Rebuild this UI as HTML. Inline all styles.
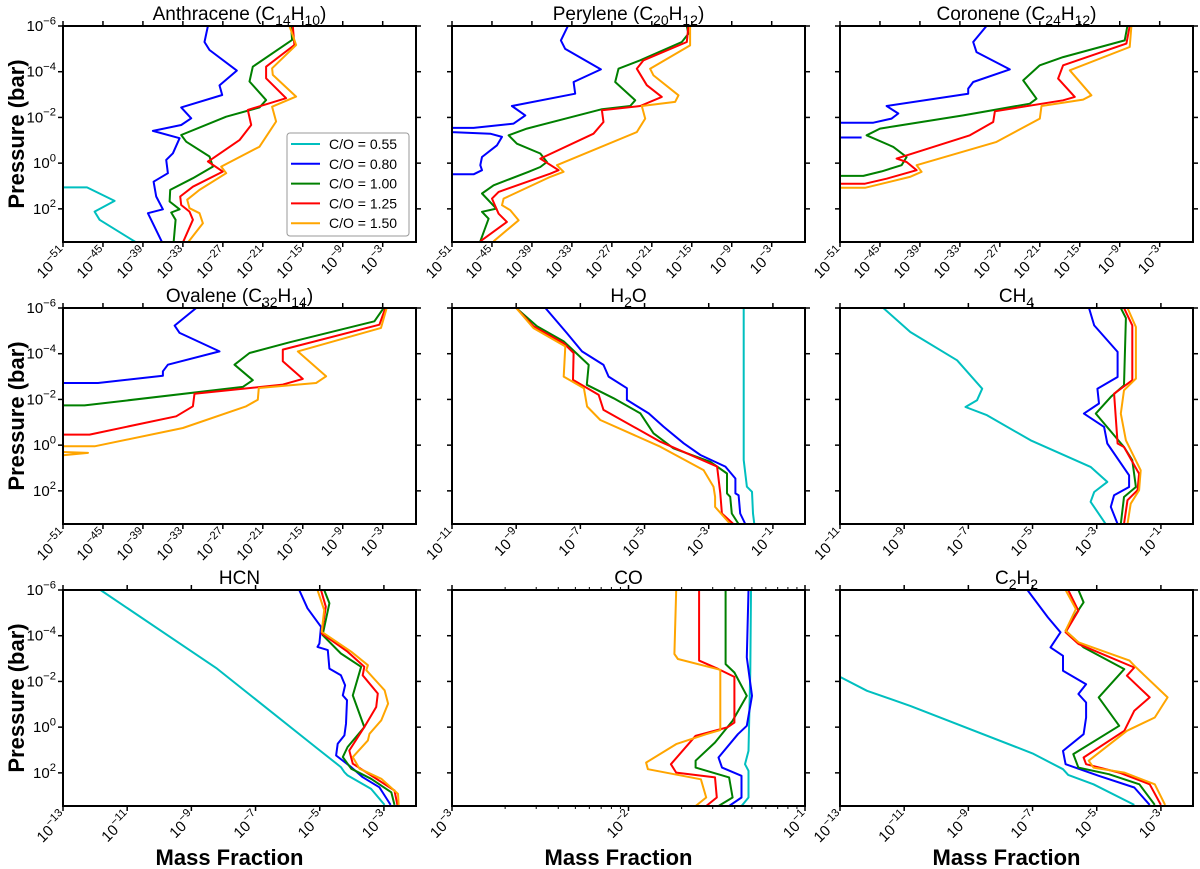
<!DOCTYPE html>
<html><head><meta charset="utf-8"><title>Mass fraction profiles</title>
<style>
html,body{margin:0;padding:0;background:#fff;}
svg{display:block;font-family:"Liberation Sans","DejaVu Sans",sans-serif;}
</style></head>
<body>
<svg id="fig" width="1200" height="869" viewBox="0 0 1200 869" xmlns="http://www.w3.org/2000/svg"></svg>
<script>
// ---- data: [log10 mass fraction, log10 pressure(bar)], null = gap ----
const anth_c=[[-51,1.06],[-47.4,1.06],[-43.25,1.65],[-46.25,2.12],[-45.5,2.48],[-40,3.47]];
const anth_b=[[-29.25,-6],[-29.75,-5.3],[-29,-4.95],[-24.9,-4.05],[-27.5,-3.4],[-27.1,-2.98],[-33.25,-2.44],[-31.75,-1.96],[-33.25,-1.67],[-37.5,-1.41],[-33.5,-1.09],[-34.5,-0.43],[-35.5,-0.14],[-35.25,0.44],[-37.4,0.81],[-37,1.46],[-36,2.02],[-38.25,2.19],[-36.1,3.47]];
const anth_g=[[-16.75,-6],[-16.6,-5.39],[-22.5,-4.22],[-23,-3.57],[-20.5,-2.76],[-21.5,-2.44],[-26.5,-2.03],[-33.25,-1.23],[-32.5,-0.94],[-29,-0.29],[-28.5,0.15],[-31.5,0.66],[-34.9,1.17],[-35,1.68],[-33.5,2.02],[-34.75,2.16],[-34.1,2.48],[-34.4,3.47]];
const anth_r=[[-16.5,-6],[-16.25,-5.17],[-20.5,-4.22],[-20.5,-3.71],[-17.5,-2.84],[-23.25,-2.33],[-22.75,-1.67],[-24.5,-1.01],[-28.5,-0.21],[-29.25,-0.07],[-27,0.37],[-31.5,1.03],[-33.4,1.46],[-33.25,1.83],[-32,2.12],[-31.5,2.48],[-33,3.47]];
const anth_o=[[-17,-6],[-16,-5.17],[-19.6,-4.15],[-19.5,-3.86],[-16,-2.91],[-19.6,-2.47],[-19,-1.82],[-21.5,-0.72],[-27.25,0.15],[-26.5,0.44],[-30.5,1.17],[-32.35,1.6],[-32,1.97],[-30.5,2.19],[-30,2.63],[-32.25,3.47]];

const pery_c=[];
const pery_b=[[-33.6,-6],[-34.65,-5.37],[-34,-5.0],[-28.65,-4.1],[-32.75,-3.55],[-32.5,-3.04],[-42,-2.5],[-40,-2.09],[-41.75,-1.73],[-47.75,-1.54],[-51,-1.54],[-51,-1.36],[-45.25,-1.29],[-43.5,-1.15],[-44.25,-0.78],[-46.5,-0.27],[-46.75,0.09],[-46.5,0.31],[-47.75,0.49],[-51,0.49]];
const pery_g=[[-15.75,-6],[-15.5,-5.66],[-16.5,-5.3],[-22.75,-4.5],[-26,-4.13],[-26.5,-3.55],[-23.5,-2.75],[-24.25,-2.5],[-28.5,-2.36],[-39.75,-1.51],[-42.5,-1.22],[-41.25,-0.85],[-37.75,-0.42],[-36.75,-0.05],[-37.75,0.17],[-39.5,0.38],[-44.75,0.97],[-46.5,1.33],[-44.35,1.99],[-46.5,2.13],[-45.5,2.43],[-46.75,3.42]];
const pery_r=[[-15.5,-6],[-15.75,-5.3],[-22.25,-4.5],[-23.25,-4.13],[-21.75,-3.41],[-19.5,-2.9],[-22.75,-2.5],[-28.5,-2.31],[-28.25,-1.8],[-29.75,-1.29],[-37.75,-0.2],[-35,0.31],[-36.25,0.46],[-44,1.26],[-45,1.55],[-44,2.21],[-42.75,2.57],[-46.75,3.42]];
const pery_o=[[-15.25,-6],[-15.25,-5.15],[-21.25,-4.13],[-20.75,-3.84],[-17,-2.97],[-17.5,-2.68],[-22.5,-2.5],[-22,-1.95],[-23.25,-1.36],[-35.25,0.09],[-34.25,0.38],[-36.25,0.6],[-43.25,1.55],[-43.5,1.84],[-42.25,2.06],[-41,2.5],[-44.75,3.42]];

const coro_c=[];
const coro_b=[[-29,-6],[-31,-5.3],[-30.5,-4.86],[-25.5,-4.1],[-31,-3.55],[-31.75,-3.26],[-31.75,-3.04],[-44,-2.5],[-42.25,-2.17],[-43.25,-1.95],[-46,-1.77],[-51,-1.77],null,[-51,-1.12],[-47.75,-1.12]];
const coro_g=[[-7.85,-6],[-8.25,-5.37],[-17.5,-4.64],[-21,-4.28],[-23.5,-3.62],[-21.5,-2.82],[-22.5,-2.6],[-32.5,-2.09],[-45,-1.51],[-47,-1.22],[-43,-0.71],[-41,-0.27],[-41.75,0.09],[-44.75,0.36],[-47.5,0.56],[-51,0.56]];
const coro_r=[[-7.5,-6],[-8,-5.23],[-17.5,-4.28],[-18.25,-3.7],[-15.75,-2.9],[-17.5,-2.75],[-27.75,-2.27],[-28,-1.8],[-31.5,-1.22],[-42.5,-0.2],[-41,-0.05],[-39.5,0.31],[-44,0.68],[-47.25,0.9],[-51,0.9]];
const coro_o=[[-7.25,-6],[-7.5,-5.08],[-16.5,-4.06],[-13.25,-2.97],[-14.5,-2.78],[-20.75,-2.5],[-21,-1.95],[-27.5,-0.93],[-39.5,0.09],[-38.75,0.38],[-40.5,0.6],[-47.25,1.08],[-51,1.08]];

const oval_c=[];
const oval_b=[[-31,-6],[-34.25,-5.23],[-33.5,-4.91],[-27.5,-4.1],[-35.25,-3.52],[-36,-3.23],[-36,-3.04],[-45.75,-2.72],[-51,-2.72]];
const oval_g=[[-2.85,-6],[-4.25,-5.42],[-17,-4.5],[-23,-4.03],[-25.25,-3.52],[-22.5,-2.84],[-24,-2.55],[-47.75,-1.74],[-51,-1.74]];
const oval_r=[[-2.6,-6],[-3.5,-5.27],[-18,-4.18],[-18,-3.67],[-15,-2.9],[-18,-2.65],[-31.25,-2.25],[-31.5,-1.7],[-34,-1.26],[-47,-0.46],[-51,-0.46]];
const oval_o=[[-2.4,-6],[-3.25,-5.13],[-15.75,-4.1],[-11.5,-3.01],[-13,-2.72],[-21.6,-2.5],[-21.75,-1.99],[-23.5,-1.7],[-33,-0.75],[-46.25,0.05],[-51,0.05],null,[-51,0.3],[-47.25,0.34],[-51,0.44]];

const h2o_c=[[-1.91,-6],[-1.91,0.65],[-1.81,1.82],[-1.65,2.04],[-1.62,2.99],[-1.58,3.45]];
const h2o_b=[[-8.09,-6],[-7.42,-4.9],[-6.95,-4.1],[-6.28,-3.51],[-6.12,-3.0],[-5.55,-2.49],[-5.55,-1.98],[-4.87,-1.39],[-4.41,-0.81],[-3.78,-0.08],[-3.26,0.43],[-2.48,0.94],[-2.17,1.46],[-2.17,2.11],[-2.07,2.19],[-2.02,2.99],[-1.86,3.45]];
const h2o_g=[[-9,-6],[-8.35,-5.2],[-7.52,-4.54],[-6.74,-3.51],[-6.8,-2.64],[-5.96,-2.05],[-5.13,-1.39],[-4.72,-0.52],[-4.1,0.14],[-2.95,0.73],[-2.43,1.24],[-2.43,2.11],[-2.33,2.26],[-2.28,2.99],[-2.07,3.45]];
const h2o_r=[[-9,-6],[-8.46,-5.2],[-7.52,-4.46],[-7.21,-4.03],[-7.23,-2.86],[-6.43,-2.2],[-6.28,-1.54],[-4.51,-0.15],[-2.74,0.94],[-2.64,2.11],[-2.59,2.99],[-2.23,3.45]];
const h2o_o=[[-9,-6],[-8.46,-5.12],[-7.47,-4.32],[-7.52,-3.0],[-6.89,-2.49],[-6.79,-1.69],[-6.38,-1.1],[-4.51,0.07],[-3.16,1.09],[-2.85,1.82],[-2.8,2.26],[-2.8,2.7],[-2.33,3.45]];

const ch4_c=[[-9.65,-6],[-8.81,-4.95],[-7.35,-3.71],[-6.57,-2.47],[-6.73,-1.96],[-7.09,-1.67],[-6.42,-1.31],[-5.06,-0.21],[-3.19,0.95],[-2.67,1.61],[-3.08,2.05],[-3.19,2.48],[-2.72,3.45]];
const ch4_b=[[-3.24,-6],[-3.08,-5.24],[-2.35,-4.08],[-2.35,-2.98],[-2.98,-2.47],[-2.93,-1.82],[-3.4,-1.38],[-2.77,-0.8],[-2.67,-0.07],[-1.99,1.32],[-1.99,1.83],[-2.46,2.19],[-2.56,2.7],[-2.35,3.45]];
const ch4_g=[[-2.25,-6],[-2.09,-5.56],[-2.15,-2.62],[-2.56,-2.11],[-3.03,-1.38],[-2.15,0.08],[-1.89,0.66],[-1.78,1.83],[-2.15,2.27],[-2.25,3.45]];
const ch4_r=[[-2.15,-6],[-1.89,-5.24],[-1.89,-2.84],[-2.46,-2.25],[-2.35,-0.07],[-2.15,0.08],[-1.68,1.25],[-1.73,1.97],[-2.04,2.41],[-2.15,3.45]];
const ch4_o=[[-2.04,-6],[-1.78,-5.17],[-1.78,-2.91],[-2.15,-2.4],[-2.25,-1.38],[-2.09,-0.21],[-1.63,1.1],[-1.68,1.97],[-1.94,2.56],[-2.04,3.45]];

const hcn_c=[[-11.83,-6],[-8.2,-2.56],[-5.07,0.94],[-4.34,1.75],[-4.23,1.97],[-4.13,2.11],[-3.4,2.7],[-2.98,3.4]];
const hcn_b=[[-5.64,-6],[-5.38,-5.2],[-4.96,-4.39],[-5.01,-3.66],[-5.07,-3.51],[-4.75,-3.37],[-4.7,-2.56],[-4.34,-2.27],[-4.21,-1.83],[-4.28,-1.39],[-4.15,-1.18],[-4.18,-0.15],[-4.23,0.36],[-4.44,0.73],[-4.49,1.24],[-4.02,1.75],[-3.66,2.19],[-3.14,2.63],[-2.79,3.4]];
const hcn_g=[[-4.86,-6],[-4.7,-5.42],[-4.91,-4.03],[-4.34,-3.22],[-3.71,-2.64],[-3.97,-1.39],[-3.61,0.0],[-4.13,0.87],[-4.28,1.31],[-4.02,1.82],[-3.4,2.26],[-2.77,2.85],[-2.67,3.4]];
const hcn_r=[[-4.96,-6],[-4.81,-5.27],[-4.94,-4.1],[-4.13,-3.3],[-3.61,-2.64],[-3.66,-2.27],[-3.19,-1.47],[-3.24,-0.88],[-3.61,0.0],[-4.08,1.02],[-3.97,1.6],[-3.4,2.11],[-2.67,2.77],[-2.58,3.4]];
const hcn_o=[[-5.07,-6],[-4.86,-5.12],[-4.94,-4.17],[-4.02,-3.3],[-3.5,-2.71],[-3.55,-2.49],[-2.98,-1.61],[-2.87,-1.03],[-3.08,-0.3],[-3.45,0.29],[-3.5,0.58],[-3.97,1.31],[-3.76,1.82],[-3.08,2.26],[-2.56,2.92],[-2.54,3.4]];

const co_c=[[-1.306,-6],[-1.31,-2.47],[-1.32,1.04],[-1.34,1.62],[-1.32,1.91],[-1.32,3.08],[-1.36,3.45]];
const co_b=[[-1.32,-6],[-1.33,-3.05],[-1.3,-1.37],[-1.33,-0.06],[-1.38,0.31],[-1.49,1.33],[-1.47,1.77],[-1.36,2.13],[-1.36,3.08],[-1.43,3.45]];
const co_g=[[-1.45,-6],[-1.45,-2.76],[-1.4,-2.39],[-1.33,-1.37],[-1.41,-0.28],[-1.51,0.67],[-1.62,1.47],[-1.62,1.77],[-1.43,2.2],[-1.41,3.08],[-1.49,3.45]];
const co_r=[[-1.6,-6],[-1.6,-2.91],[-1.49,-2.54],[-1.4,-2.2],[-1.4,-0.2],[-1.44,0.01],[-1.62,0.38],[-1.76,1.62],[-1.73,1.99],[-1.51,2.2],[-1.5,3.08],[-1.56,3.45]];
const co_o=[[-1.73,-6],[-1.74,-3.2],[-1.72,-2.98],[-1.48,-2.51],[-1.48,0.13],[-1.56,0.31],[-1.73,0.74],[-1.9,1.55],[-1.89,1.84],[-1.59,2.28],[-1.56,3.08],[-1.62,3.45]];

const c2h2_c=[[-13,-2.2],[-12.16,-1.59],[-10.81,-0.93],[-7,1.15],[-6.05,1.84],[-5.89,2.09],[-5.1,2.5],[-3.83,3.4]];
const c2h2_b=[[-7.16,-6],[-6.52,-4.8],[-6.13,-4.15],[-6.44,-3.49],[-6.05,-3.12],[-6.05,-2.47],[-5.33,-1.88],[-5.57,-1.45],[-5.33,-1.08],[-5.33,-0.42],[-5.41,0.31],[-6.05,1.04],[-5.97,1.62],[-4.94,2.13],[-3.83,2.64],[-3.35,3.4]];
const c2h2_g=[[-5.57,-6],[-5.41,-5.46],[-5.65,-4.95],[-5.97,-4.22],[-5.41,-3.49],[-4.14,-2.54],[-4.94,-1.3],[-4.3,-0.06],[-5.73,1.18],[-5.57,1.77],[-4.62,2.06],[-3.67,2.5],[-3.19,3.4]];
const c2h2_r=[[-5.89,-6],[-5.57,-5.09],[-5.97,-4.15],[-5.57,-3.64],[-3.83,-2.61],[-4.06,-2.25],[-3.35,-1.3],[-3.83,-0.72],[-4.14,0.16],[-5.41,1.33],[-5.33,1.62],[-4.3,1.99],[-3.35,2.5],[-3.0,3.4]];
const c2h2_o=[[-5.97,-6],[-5.65,-5.17],[-5.97,-4.22],[-5.57,-3.71],[-3.98,-2.91],[-3.83,-2.69],[-2.79,-1.3],[-3.19,-0.42],[-4.06,0.16],[-5.25,1.47],[-5.1,1.77],[-4.14,1.99],[-3.19,2.5],[-2.87,3.4]];

const seriesLabels=["C/O = 0.55","C/O = 0.80","C/O = 1.00","C/O = 1.25","C/O = 1.50"];
const yTicks=[-6,-4,-2,0,2];
const ticksPAH=[-51,-45,-39,-33,-27,-21,-15,-9,-3];
const ticksGas=[-11,-9,-7,-5,-3,-1];
const ticksLow=[-13,-11,-9,-7,-5,-3];
const ticksCO=[-3,-2,-1];

// ---- layout ----
const NS="http://www.w3.org/2000/svg";
const svg=document.getElementById("fig");
const COLORS=["#00bfbf","#0000ff","#008000","#ff0000","#ffa500"];
const colX=[63,452,840], rowY=[26,308,590], W=353, H=216, PMIN=-6, PMAX=3.45;
const panels=[
 {id:"anthracene",title:[["Anthracene (C",0],["14",1],["H",0],["10",1],[")",0]],r:0,c:0,xmin:-51,xmax:2,ticks:ticksPAH,data:[anth_c,anth_b,anth_g,anth_r,anth_o]},
 {id:"perylene",title:[["Perylene (C",0],["20",1],["H",0],["12",1],[")",0]],r:0,c:1,xmin:-51,xmax:2,ticks:ticksPAH,data:[pery_c,pery_b,pery_g,pery_r,pery_o]},
 {id:"coronene",title:[["Coronene (C",0],["24",1],["H",0],["12",1],[")",0]],r:0,c:2,xmin:-51,xmax:2,ticks:ticksPAH,data:[coro_c,coro_b,coro_g,coro_r,coro_o]},
 {id:"ovalene",title:[["Ovalene (C",0],["32",1],["H",0],["14",1],[")",0]],r:1,c:0,xmin:-51,xmax:2,ticks:ticksPAH,data:[oval_c,oval_b,oval_g,oval_r,oval_o]},
 {id:"h2o",title:[["H",0],["2",1],["O",0]],r:1,c:1,xmin:-11,xmax:0,ticks:ticksGas,data:[h2o_c,h2o_b,h2o_g,h2o_r,h2o_o]},
 {id:"ch4",title:[["CH",0],["4",1]],r:1,c:2,xmin:-11,xmax:0,ticks:ticksGas,data:[ch4_c,ch4_b,ch4_g,ch4_r,ch4_o]},
 {id:"hcn",title:[["HCN",0]],r:2,c:0,xmin:-13,xmax:-2,ticks:ticksLow,data:[hcn_c,hcn_b,hcn_g,hcn_r,hcn_o]},
 {id:"co",title:[["CO",0]],r:2,c:1,xmin:-3,xmax:-1,ticks:ticksCO,minor:true,data:[co_c,co_b,co_g,co_r,co_o]},
 {id:"c2h2",title:[["C",0],["2",1],["H",0],["2",1]],r:2,c:2,xmin:-13,xmax:-2,ticks:ticksLow,data:[c2h2_c,c2h2_b,c2h2_g,c2h2_r,c2h2_o]}
];
function el(tag,attrs,parent){const e=document.createElementNS(NS,tag);for(const k in attrs)e.setAttribute(k,attrs[k]);(parent||svg).appendChild(e);return e;}
function pow10Text(parent,x,y,exp,anchor,size,transform){
  const t=el("text",{x:x,y:y,"text-anchor":anchor,"font-size":size,fill:"#000"},parent);
  if(transform)t.setAttribute("transform",transform);
  t.appendChild(document.createTextNode("10"));
  const s=el("tspan",{dy:-size*0.45,"font-size":size*0.75},t);
  s.textContent=(exp<0?"\u2212"+(-exp):String(exp));
  return t;
}
const defs=el("defs",{});
panels.forEach((p,pi)=>{
  const x0=colX[p.c], y0=rowY[p.r];
  const sx=v=>x0+(v-p.xmin)/(p.xmax-p.xmin)*W;
  const sy=v=>y0+(v-PMIN)/(PMAX-PMIN)*H;
  const g=el("g",{});
  
  
  const cp=el("clipPath",{id:"clip"+pi},defs);
  el("rect",{x:x0,y:y0,width:W,height:H},cp);
  // title
  const t=el("text",{x:x0+W/2,y:y0-6,"text-anchor":"middle","font-size":19,fill:"#000"},g);
  
  
  let lowered=false;
  p.title.forEach(([txt,sub])=>{const s=el("tspan",{},t);
    if(sub){s.setAttribute("font-size",14);if(!lowered){s.setAttribute("dy",5);lowered=true;}}
    else if(lowered){s.setAttribute("dy",-5);lowered=false;}
    s.textContent=txt;});
  // series
  const lg=el("g",{"clip-path":"url(#clip"+pi+")"},g);
  p.data.forEach((arr,si)=>{
    if(!arr.length)return;
    let d="",pen=false;
    arr.forEach(pt=>{if(pt===null){pen=false;return;}d+=(pen?"L":"M")+sx(pt[0]).toFixed(1)+","+sy(pt[1]).toFixed(1);pen=true;});
    const path=el("path",{d:d,fill:"none",stroke:COLORS[si],"stroke-width":2,"stroke-linejoin":"round"},lg);
    
    
  });
  // frame
  const fr=el("rect",{x:x0,y:y0,width:W,height:H,fill:"none",stroke:"#000","stroke-width":2},g);
  
  
  // y ticks
  yTicks.forEach(v=>{
    const y=sy(v);
    el("line",{x1:x0-5,y1:y,x2:x0,y2:y,stroke:"#000","stroke-width":1.5},g);
    el("line",{x1:x0+W,y1:y,x2:x0+W+5,y2:y,stroke:"#000","stroke-width":1.5},g);
    if(p.c===0){const lab=pow10Text(g,x0-7,y+5,v,"end",15);
      
      }
  });
  // x ticks
  p.ticks.forEach(v=>{
    const x=sx(v);
    el("line",{x1:x,y1:y0+H,x2:x,y2:y0+H+5,stroke:"#000","stroke-width":1.5},g);
    el("line",{x1:x,y1:y0-5,x2:x,y2:y0,stroke:"#000","stroke-width":1.5},g);
    const lab=pow10Text(g,0,0,v,"end",15,"translate("+(x+5)+","+(y0+H+12)+") rotate(-45)");
    
    
  });
  if(p.minor){
    for(let dec=p.xmin;dec<p.xmax;dec++)for(let m=2;m<10;m++){
      const x=sx(dec+Math.log10(m));
      el("line",{x1:x,y1:y0+H,x2:x,y2:y0+H+3,stroke:"#000","stroke-width":1},g);
      el("line",{x1:x,y1:y0-3,x2:x,y2:y0,stroke:"#000","stroke-width":1},g);
    }
  }
  if(p.c===0){
    const yl=el("text",{x:0,y:0,"text-anchor":"middle","font-size":22,"font-weight":"bold",transform:"translate(24,"+(y0+H/2)+") rotate(-90)"},g);
    yl.textContent="Pressure (bar)";
    
    
  }
  if(p.r===2){
    const xl=el("text",{x:x0+W/2-10,y:865,"text-anchor":"middle","font-size":22,"font-weight":"bold"},g);
    xl.textContent="Mass Fraction";
    
    
  }
});
// legend
const lgd=el("g",{});


el("rect",{x:287,y:133,width:122,height:103,rx:3,fill:"#fff",stroke:"#999","stroke-width":1},lgd);
seriesLabels.forEach((s,i)=>{
  const y=144+i*19.8;
  const e=el("g",{},lgd);
  
  
  el("line",{x1:291,y1:y,x2:320,y2:y,stroke:COLORS[i],"stroke-width":2},e);
  const tx=el("text",{x:329,y:y+5,"font-size":14},e);
  tx.textContent=s;
});
</script>
</body></html>
